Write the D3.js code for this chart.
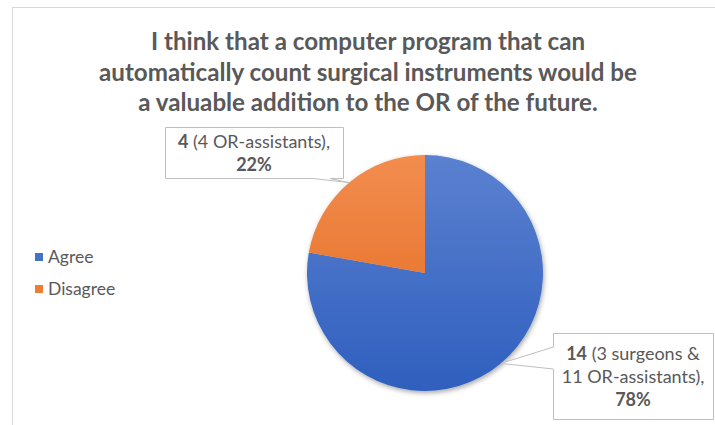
<!DOCTYPE html>
<html>
<head>
<meta charset="utf-8">
<script src="https://cdn.jsdelivr.net/npm/d3@7"></script>
<style>
  html, body { margin: 0; padding: 0; background: #fff; }
  svg { display: block; font-family: "Lato", "Open Sans", sans-serif; }
</style>
</head>
<body>
<svg id="chart" width="715" height="425"></svg>
<script>
// Survey responses
const titleLines = [
  "I think that a computer program that can",
  "automatically count surgical instruments would be",
  "a valuable addition to the OR of the future."
];
const categories = ["Agree", "Disagree"];
const counts = [14, 4];
const colors = ["#4472C4", "#ED7D31"];
const gradTop = ["#5b81d0", "#f28d4f"];
const gradBottom = ["#2f5fbe", "#e2671a"];
const labelNotes = [
  ["(3 surgeons &", "11 OR-assistants),"],
  ["(4 OR-assistants),"]
];

const svg = d3.select("#chart");
const textColor = "#595959";

// chart frame
svg.append("rect")
  .attr("x", 12.5).attr("y", 7.5)
  .attr("width", 720).attr("height", 430)
  .attr("fill", "#fff").attr("stroke", "#d9d9d9").attr("stroke-width", 1);

// title, fitted to the frame width
const title = svg.append("g").attr("fill", textColor)
  .attr("font-weight", 700).attr("text-anchor", "middle");
const tLines = title.selectAll("text").data(titleLines).join("text")
  .attr("x", 368)
  .attr("y", (d, i) => 50 + i * 30.5)
  .attr("font-size", 22)
  .text(d => d);
const wAll = d3.sum(tLines.nodes(), n => n.getComputedTextLength());
tLines.attr("font-size", 22 * 1432 / wAll);

// pie
const cx = 425, cy = 273, r = 118;
const total = d3.sum(counts);
const pie = d3.pie().sort(null).value(d => d)(counts);
const arc = d3.arc().innerRadius(0).outerRadius(r);
const edge = d3.arc().innerRadius(r).outerRadius(r);
const pct = d3.format(".0%");

const defs = svg.append("defs");
categories.forEach((c, i) => {
  const g = defs.append("linearGradient")
    .attr("id", "grad" + i)
    .attr("gradientUnits", "userSpaceOnUse")
    .attr("x1", 0).attr("x2", 0)
    .attr("y1", -r).attr("y2", r);
  g.append("stop").attr("offset", 0).attr("stop-color", gradTop[i]);
  g.append("stop").attr("offset", 1).attr("stop-color", gradBottom[i]);
});
const shadow = defs.append("filter").attr("id", "shadow")
  .attr("x", "-20%").attr("y", "-20%").attr("width", "140%").attr("height", "140%");
shadow.append("feDropShadow")
  .attr("dx", 1).attr("dy", 2).attr("stdDeviation", 2.5)
  .attr("flood-color", "#000").attr("flood-opacity", 0.35);

const pg = svg.append("g").attr("transform", `translate(${cx},${cy})`);
pg.append("g").attr("filter", "url(#shadow)")
  .selectAll("path").data(pie).join("path")
  .attr("d", arc)
  .attr("fill", (d, i) => `url(#grad${i})`);

// callouts
const boxes = [
  { x: 553, y: 333, w: 160, h: 86, side: "left", a: 347, b: 369 },
  { x: 165, y: 127, w: 178, h: 51, side: "bottom", a: 313, b: 330 }
];
const lg = svg.append("g");
pie.forEach((d, i) => {
  const bx = boxes[i];
  const tip = edge.centroid(d);
  const tx = cx + tip[0], ty = cy + tip[1];
  let p;
  const x0 = bx.x + 0.5, y0 = bx.y + 0.5, x1 = bx.x + bx.w + 0.5, y1 = bx.y + bx.h + 0.5;
  if (bx.side === "left") {
    p = `M${x0},${y0}H${x1}V${y1}H${x0}V${bx.b}L${tx},${ty}L${x0},${bx.a}Z`;
  } else {
    p = `M${x0},${y0}H${x1}V${y1}H${bx.b}L${tx},${ty}L${bx.a},${y1}H${x0}Z`;
  }
  lg.append("path").attr("d", p)
    .attr("fill", "#fff").attr("stroke", "#bfbfbf").attr("stroke-width", 1);

  const lines = [];
  labelNotes[i].forEach((n, k) => lines.push(k === 0 ? [[String(d.data), true], [" " + n, false]] : [[n, false]]));
  lines.push([[pct(d.data / total), true]]);
  const lineH = 23;
  const firstY = bx.y + bx.h / 2 - (lines.length - 1) * lineH / 2 + 7;
  lines.forEach((ln, k) => {
    const t = lg.append("text")
      .attr("x", bx.x + bx.w / 2)
      .attr("y", firstY + k * lineH)
      .attr("text-anchor", "middle")
      .attr("font-size", 18)
      .attr("fill", textColor);
    ln.forEach(([s, bold]) => t.append("tspan").attr("font-weight", bold ? 700 : 400).text(s));
  });
});

// legend
const leg = svg.append("g").attr("transform", "translate(35,253)");
const items = leg.selectAll("g").data(categories).join("g")
  .attr("transform", (d, i) => `translate(0,${i * 32})`);
items.append("rect").attr("width", 8).attr("height", 8)
  .attr("fill", (d, i) => colors[i]);
items.append("text").attr("x", 13).attr("y", 9.5)
  .attr("font-size", 17.5).attr("fill", textColor).text(d => d);
</script>
</body>
</html>
